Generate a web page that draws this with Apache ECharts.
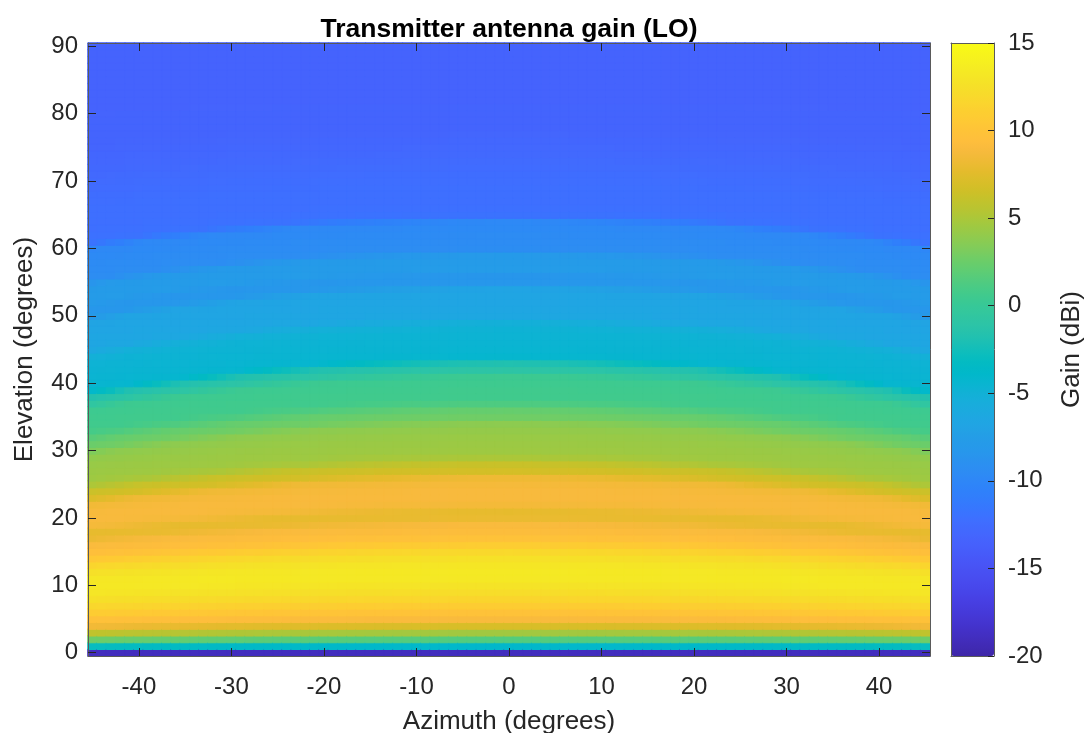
<!DOCTYPE html>
<html>
<head>
<meta charset="utf-8">
<script src="https://cdn.jsdelivr.net/npm/echarts@6/dist/echarts.min.js"></script>
<style>
  html, body { margin: 0; padding: 0; background: #fff; }
  #chart { width: 1087px; height: 733px; }
</style>
</head>
<body>
<div id="chart"></div>
<script>
// Gain (dBi) along the az = 0 cut, elevation 0..90 deg in 1 deg steps
const centerGain = [
  -19.0, -4.0, 1.5, 4.6, 7.0, 9.0, 9.9, 10.8, 11.6, 12.3,
  12.8, 13.2, 13.3, 13.1, 12.6, 11.9, 10.9, 9.9, 9.3, 9.0,
  8.0, 7.8, 8.6, 8.9, 8.9, 8.7, 8.3, 6.8, 6.3, 5.0,
  4.5, 4.4, 4.3, 4.1, 3.8, 2.7, 2.3, 1.3, 0.6, 0.6,
  0.5, 0.4, -1.0, -1.8, -4.3, -4.5, -4.6, -4.7, -4.8, -5.2,
  -6.4, -6.5, -6.6, -6.7, -6.8, -8.3, -8.4, -7.7, -7.8, -7.9,
  -9.3, -9.4, -9.5, -9.7, -9.8, -11.9, -12.1, -12.2, -12.2, -12.2,
  -12.3, -12.4, -12.5, -12.6, -12.8, -12.9, -13.0, -13.1, -13.2, -13.2,
  -13.2, -13.2, -13.3, -13.3, -13.3, -13.3, -13.3, -13.3, -13.3, -13.3,
  -13.3
];
// How far (deg) the pattern bands sit lower at az = +/-45, per 10 deg of elevation (0..90)
const edgeLift = [0, 1.8, 3.4, 4.5, 4.9, 4.8, 4.1, 3.0, 1.6, 0];
// Share of that drop reached at |az| = 0, 5, ..., 45 deg
const bendShape = [0, 0.01, 0.05, 0.11, 0.19, 0.30, 0.44, 0.60, 0.78, 1.0];

const azimuthDeg = [];
for (let a = -45; a <= 45; a++) azimuthDeg.push(String(a));
const elevationDeg = [];
for (let e = 0; e <= 90; e++) elevationDeg.push(String(e));

const azTicks = [-40, -30, -20, -10, 0, 10, 20, 30, 40];
const elTicks = [0, 10, 20, 30, 40, 50, 60, 70, 80, 90];
const gainTicks = [-20, -15, -10, -5, 0, 5, 10, 15];
const gainMin = gainTicks[0];
const gainMax = gainTicks[gainTicks.length - 1];

// MATLAB parula colormap (64 entries)
const parula = [
  '#3e26a8','#402ab4','#422ec0','#4332cb','#4537d5','#463cde','#4741e5','#4747eb',
  '#484df0','#4852f4','#4758f8','#465efb','#4563fd','#4269fe','#3e6fff','#3875fe',
  '#327cfc','#2f81fa','#2e87f7','#2d8cf3','#2b91ef','#2797eb','#259be8','#23a0e5',
  '#20a5e3','#1ca9df','#18addb','#12b1d6','#08b5d0','#01b8ca','#02bac3','#0bbdbd',
  '#19bfb6','#24c1ae','#2cc4a7','#31c69f','#37c897','#3fca8e','#4acb84','#57cc7a',
  '#64cd6f','#72cd64','#81cc59','#8fcb4e','#9dc943','#abc739','#b9c431','#c5c22a',
  '#d1bf27','#dcbd29','#e6bb2d','#f0ba36','#f8ba3d','#febe3c','#fec338','#fec934',
  '#fccf30','#fad62d','#f7dc2a','#f5e327','#f5e924','#f6ef20','#f7f51b','#f9fb15'
];

function sampleAt(arr, pos) {
  const p = Math.max(0, Math.min(arr.length - 1, pos));
  const i0 = Math.floor(p);
  const i1 = Math.min(arr.length - 1, i0 + 1);
  const f = p - i0;
  return arr[i0] * (1 - f) + arr[i1] * f;
}

// Each cell reads the az = 0 cut at its elevation lifted by the band bend
const cells = [];
azimuthDeg.forEach((az, xi) => {
  const bend = sampleAt(bendShape, Math.abs(Number(az)) / 5);
  elevationDeg.forEach((el, yi) => {
    const e = Number(el);
    const lift = sampleAt(edgeLift, e / 10) * bend;
    const g = Math.round(sampleAt(centerGain, e + lift) * 100) / 100;
    // a stroke in the cell's own colour closes hairline seams between cells
    const edge = echarts.color.lerp((g - gainMin) / (gainMax - gainMin), parula);
    cells.push({ value: [xi, yi, g], itemStyle: { borderColor: edge, borderWidth: 1 } });
  });
});

const FONT = '"Liberation Sans", Arial, Helvetica, sans-serif';
const INK = '#262626';
const FRAME = '#5a5a5a';

const catTick = (list) => (idx, val) => list.includes(Number(val));

const frameLine = { show: true, onZero: false, lineStyle: { color: FRAME, width: 1 } };

const chart = echarts.init(document.getElementById('chart'), null, { renderer: 'canvas' });
chart.setOption({
  animation: false,
  backgroundColor: '#ffffff',
  grid: [
    { left: 88, top: 43, width: 842, height: 613, containLabel: false, outerBoundsMode: 'none' },
    { left: 951, top: 43, width: 43, height: 613, containLabel: false, outerBoundsMode: 'none' }
  ],
  xAxis: [
    {
      type: 'category', gridIndex: 0, position: 'bottom', data: azimuthDeg, z: 10,
      axisLine: frameLine,
      axisTick: { show: true, inside: true, length: 8, alignWithLabel: true, interval: catTick(azTicks), lineStyle: { color: INK } },
      axisLabel: { interval: catTick(azTicks), margin: 19, fontFamily: FONT, fontSize: 24, color: INK },
      splitLine: { show: false },
      name: 'Azimuth (degrees)', nameLocation: 'middle', nameGap: 53,
      nameTextStyle: { fontFamily: FONT, fontSize: 26, color: INK }
    },
    {
      type: 'category', gridIndex: 0, position: 'top', data: azimuthDeg, z: 10,
      axisLine: frameLine,
      axisTick: { show: true, inside: true, length: 8, alignWithLabel: true, interval: catTick(azTicks), lineStyle: { color: INK } },
      axisLabel: { show: false },
      splitLine: { show: false },
      name: 'Transmitter antenna gain (LO)', nameLocation: 'middle', nameGap: 0,
      nameTextStyle: { fontFamily: FONT, fontSize: 26.5, fontWeight: 'bold', color: '#000' }
    },
    {
      type: 'value', gridIndex: 1, position: 'bottom', min: 0, max: 1, z: 10,
      axisLine: frameLine, axisTick: { show: false }, axisLabel: { show: false }, splitLine: { show: false }
    },
    {
      type: 'value', gridIndex: 1, position: 'top', min: 0, max: 1, z: 10,
      axisLine: frameLine, axisTick: { show: false }, axisLabel: { show: false }, splitLine: { show: false }
    }
  ],
  yAxis: [
    {
      type: 'category', gridIndex: 0, position: 'left', data: elevationDeg, z: 10,
      axisLine: frameLine,
      axisTick: { show: true, inside: true, length: 8, alignWithLabel: true, interval: catTick(elTicks), lineStyle: { color: INK } },
      axisLabel: { interval: catTick(elTicks), margin: 10, fontFamily: FONT, fontSize: 24, color: INK },
      splitLine: { show: false },
      name: 'Elevation (degrees)', nameLocation: 'middle', nameGap: 50, nameRotate: 90,
      nameTextStyle: { fontFamily: FONT, fontSize: 26, color: INK }
    },
    {
      type: 'category', gridIndex: 0, position: 'right', data: elevationDeg, z: 10,
      axisLine: frameLine,
      axisTick: { show: true, inside: true, length: 8, alignWithLabel: true, interval: catTick(elTicks), lineStyle: { color: INK } },
      axisLabel: { show: false },
      splitLine: { show: false }
    },
    {
      type: 'value', gridIndex: 1, position: 'left', min: gainMin, max: gainMax, z: 10,
      axisLine: frameLine, axisTick: { show: false }, axisLabel: { show: false }, splitLine: { show: false }
    },
    {
      type: 'value', gridIndex: 1, position: 'right', min: gainMin, max: gainMax, interval: 5, z: 10,
      axisLine: frameLine,
      axisTick: { show: true, inside: true, length: 6, lineStyle: { color: INK } },
      axisLabel: { margin: 14, fontFamily: FONT, fontSize: 24, color: INK },
      splitLine: { show: false },
      name: 'Gain (dBi)', nameLocation: 'middle', nameGap: 65, nameRotate: 90,
      nameTextStyle: { fontFamily: FONT, fontSize: 26, color: INK }
    }
  ],
  visualMap: [{
    type: 'continuous',
    seriesIndex: 0,
    min: gainMin,
    max: gainMax,
    inRange: { color: parula },
    show: true,
    calculable: false,
    hoverLink: false,
    text: null,
    left: 951,
    top: 43,
    padding: 0,
    itemWidth: 43,
    itemHeight: 613
  }],
  series: [{
    type: 'heatmap',
    xAxisIndex: 0,
    yAxisIndex: 0,
    data: cells,
    progressive: 0,
    silent: true,
    emphasis: { disabled: true }
  }]
});
</script>
</body>
</html>
